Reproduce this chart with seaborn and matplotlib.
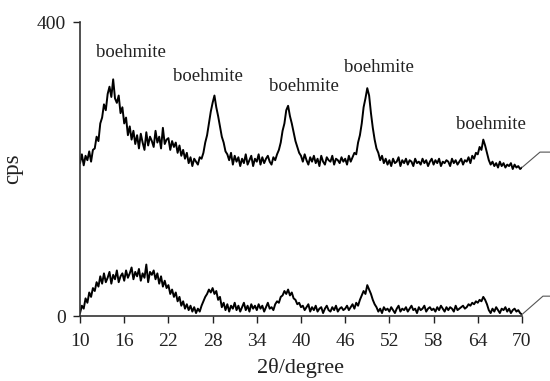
import numpy as np
import pandas as pd
import matplotlib
matplotlib.use("Agg")
import matplotlib.pyplot as plt
import seaborn as sns

# 2-theta sampling grid (degrees), 0.25 degree step from 10 to 70
two_theta = np.linspace(10, 70, 241)

# upper pattern (cps)
upper_cps = [
    208, 220, 205, 218, 212, 224, 210, 226,
    228, 244, 238, 262, 270, 288, 280, 302,
    312, 298, 322, 296, 290, 300, 276, 284,
    262, 270, 246, 258, 240, 252, 234, 246,
    228, 248, 236, 226, 250, 232, 244, 238,
    230, 252, 236, 244, 228, 256, 234, 240,
    242, 226, 238, 230, 236, 222, 232, 218,
    226, 214, 222, 208, 216, 204, 214, 210,
    206, 216, 214, 222, 236, 246, 262, 278,
    290, 300, 284, 272, 258, 244, 236, 224,
    220, 212, 222, 206, 218, 210, 216, 204,
    214, 208, 220, 206, 212, 218, 204, 214,
    210, 220, 206, 216, 208, 214, 218, 210,
    206, 216, 212, 220, 226, 236, 252, 262,
    280, 286, 272, 262, 250, 238, 230, 222,
    218, 210, 220, 212, 206, 216, 210, 218,
    208, 214, 204, 218, 210, 206, 216, 212,
    210, 218, 206, 214, 212, 208, 216, 210,
    214, 206, 218, 210, 216, 222, 220, 236,
    246, 262, 284, 296, 310, 300, 276, 256,
    240, 228, 222, 212, 218, 208, 214, 206,
    212, 204, 214, 208, 210, 216, 204, 212,
    208, 214, 206, 212, 210, 204, 214, 208,
    210, 206, 214, 208, 212, 204, 210, 214,
    206, 212, 208, 214, 204, 210, 208, 212,
    210, 204, 214, 208, 212, 206, 210, 214,
    206, 212, 210, 216, 208, 218, 214, 222,
    220, 230, 226, 240, 232, 222, 212, 206,
    210, 204, 208, 202, 210, 204, 208, 202,
    206, 204, 208, 200, 206, 202, 204, 200,
    202,
]

# lower pattern (cps)
lower_cps = [
    4, 14, 10, 24, 18, 32, 26, 38,
    34, 46, 40, 54, 44, 58, 46, 52,
    60, 44, 56, 50, 62, 46, 54, 58,
    48, 62, 52, 58, 66, 50, 60, 54,
    64, 48, 58, 52, 70, 46, 60, 56,
    62, 50, 58, 44, 54, 40, 48, 38,
    42, 30, 36, 26, 32, 20, 26, 14,
    20, 10, 16, 8, 14, 6, 12, 4,
    10, 6, 14, 20, 26, 30, 36, 32,
    38, 30, 34, 22, 26, 12, 18, 8,
    16, 6, 14, 10, 18, 8, 14, 6,
    12, 18, 8, 14, 6, 16, 10, 14,
    8, 16, 10, 14, 6, 12, 18, 10,
    12, 8, 16, 20, 18, 26, 28, 34,
    30, 36, 28, 32, 24, 22, 16, 18,
    12, 14, 8, 12, 16, 6, 12, 8,
    14, 6, 10, 12, 4, 10, 14, 8,
    6, 12, 8, 14, 6, 10, 12, 8,
    10, 14, 8, 12, 16, 10, 18, 14,
    22, 28, 34, 30, 42, 36, 30, 22,
    16, 12, 6, 10, 4, 12, 8, 10,
    6, 12, 8, 4, 10, 14, 6, 10,
    8, 12, 6, 10, 14, 8, 10, 4,
    12, 8, 10, 14, 6, 10, 12, 8,
    10, 6, 12, 8, 14, 10, 6, 12,
    8, 12, 10, 6, 14, 8, 10, 12,
    14, 10, 12, 16, 14, 18, 16, 20,
    18, 22, 20, 26, 22, 16, 8, 4,
    10, 6, 12, 8, 4, 10, 8, 12,
    6, 10, 4, 8, 10, 6, 8, 4,
    2,
]

# peak annotations
peak_labels = ["boehmite"] * 5
peak_label_x = [16.9, 27.4, 40.4, 50.6, 65.8]
peak_label_y = [359, 326, 312, 338, 260]

x_ticks = [10, 16, 22, 28, 34, 40, 46, 52, 58, 64, 70]
y_ticks = [0, 400]

sns.set_theme(style="white")
plt.rcParams["font.family"] = ["Liberation Serif", "DejaVu Serif"]

fig = plt.figure(figsize=(5.5, 3.81), dpi=100)
ax = fig.add_axes([0.1455, 0.1706, 0.8035, 0.7716])

df = pd.DataFrame({
    "two_theta": np.concatenate([two_theta, two_theta]),
    "cps": upper_cps + lower_cps,
    "sample": ["upper"] * len(upper_cps) + ["lower"] * len(lower_cps),
})
sns.lineplot(data=df, x="two_theta", y="cps", units="sample", estimator=None,
             color="black", lw=1.4, ax=ax, legend=False)

for t, lx, ly in zip(peak_labels, peak_label_x, peak_label_y):
    ax.text(lx, ly, t, ha="center", va="center", fontsize=13.5, color="#222222")

# leader lines to the (cropped) curve labels on the right
ax.plot([70, 72.45, 74.5], [upper_cps[-1], 223, 223], color="#555555", lw=0.8, clip_on=False)
ax.plot([70, 72.85, 74.5], [lower_cps[-1], 27, 27], color="#555555", lw=0.8, clip_on=False)

ax.set_xlim(10, 70)
ax.set_ylim(0, 400)
ax.set_xticks(x_ticks)
ax.set_yticks(y_ticks)
ax.tick_params(axis="both", direction="out", length=5, width=1, labelsize=14,
               colors="#222222", bottom=True, left=True)
ax.tick_params(axis="x", pad=7)
ax.tick_params(axis="y", pad=5)
for s in ["top", "right"]:
    ax.spines[s].set_visible(False)
for s in ["left", "bottom"]:
    ax.spines[s].set_color("#333333")
    ax.spines[s].set_linewidth(1.2)

ax.set_xlabel("2θ/degree", fontsize=16, color="#222222", labelpad=6)
ax.set_ylabel("cps", fontsize=16.5, color="#222222", labelpad=10)

fig.savefig("out.png", dpi=100)
